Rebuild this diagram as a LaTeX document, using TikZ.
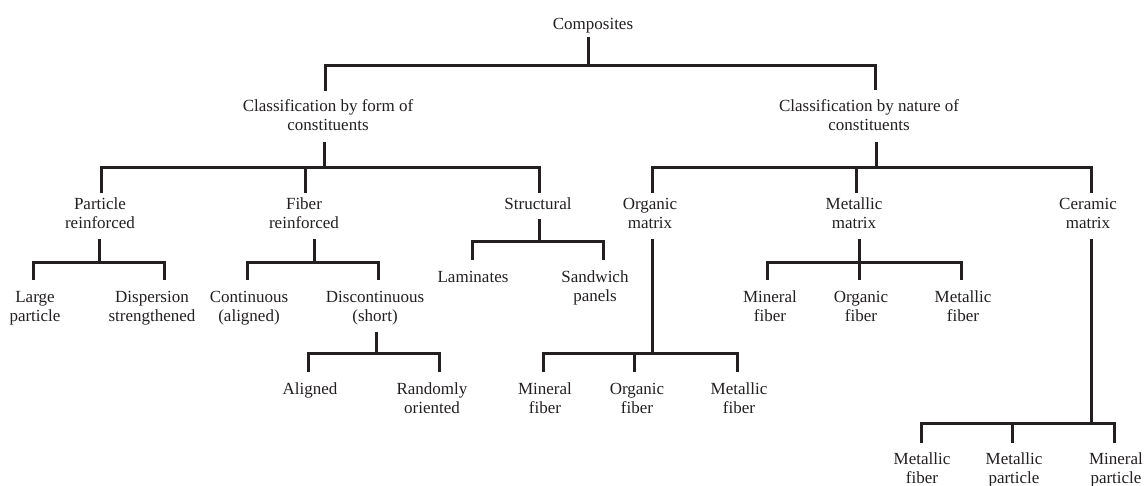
\documentclass[tikz,border=0pt]{standalone}
\usepackage{fontspec}
\setmainfont{Liberation Serif}
\definecolor{ink}{HTML}{231F20}
\begin{document}
\begin{tikzpicture}[x=1pt,y=-1pt,
  lbl/.style={font=\fontsize{17}{19}\selectfont, align=center, inner sep=0pt, anchor=base, text=ink},
  conn/.style={draw=ink, line width=3pt}]
\useasboundingbox (0,0) rectangle (1145,485);
% nodes (anchor base = baseline of the last line)
\node[lbl] (comp) at (593,29) {Composites};
\node[lbl] (cfA) at (328,130) {Classification by form of\\constituents};
\node[lbl] (cfB) at (869,130) {Classification by nature of\\constituents};
\node[lbl] (pr) at (100,228) {Particle\\reinforced};
\node[lbl] (fr) at (304,228) {Fiber\\reinforced};
\node[lbl] (st) at (538,209) {Structural};
\node[lbl] (om) at (650,228) {Organic\\matrix};
\node[lbl] (mm) at (854,228) {Metallic\\matrix};
\node[lbl] (cm) at (1088,228) {Ceramic\\matrix};
\node[lbl] (lp) at (35,321) {Large\\particle};
\node[lbl] (ds) at (152,321) {Dispersion\\strengthened};
\node[lbl] (ca) at (249,321) {Continuous\\(aligned)};
\node[lbl] (dc) at (375,321) {Discontinuous\\(short)};
\node[lbl] (lam) at (473,282) {Laminates};
\node[lbl] (sw) at (595,301) {Sandwich\\panels};
\node[lbl] (al) at (310,394) {Aligned};
\node[lbl] (ro) at (432,413) {Randomly\\oriented};
\node[lbl] (of1) at (545,413) {Mineral\\fiber};
\node[lbl] (of2) at (637,413) {Organic\\fiber};
\node[lbl] (of3) at (739,413) {Metallic\\fiber};
\node[lbl] (mf1) at (770,321) {Mineral\\fiber};
\node[lbl] (mf2) at (861,321) {Organic\\fiber};
\node[lbl] (mf3) at (963,321) {Metallic\\fiber};
\node[lbl] (cf1) at (922,483) {Metallic\\fiber};
\node[lbl] (cf2) at (1014,483) {Metallic\\particle};
\node[lbl] (cf3) at (1116,483) {Mineral\\particle};
% junctions
\coordinate (j1) at (588,65);
\coordinate (j2a) at (324,167);
\coordinate (j2b) at (876,167);
\coordinate (j3a) at (99,262);
\coordinate (j3b) at (314,262);
\coordinate (j3c) at (539,241);
\coordinate (j3d) at (859,262);
\coordinate (j4a) at (376,353);
\coordinate (j4b) at (652,353);
\coordinate (j5) at (1091,423);
% level 1
\draw[conn] ([xshift=-5pt,yshift=-8pt]comp.base) -- (j1);
\draw[conn] ([xshift=-3pt,yshift=39pt]cfA.base) |- (j1) -| ([xshift=6pt,yshift=40pt]cfB.base);
% form of constituents
\draw[conn] ([xshift=-4pt,yshift=-12pt]cfA.base) -- (j2a);
\draw[conn] ([xshift=1pt,yshift=35pt]pr.base) |- (j2a) -| ([xshift=1pt,yshift=16pt]st.base);
\draw[conn] ([xshift=1pt,yshift=35pt]fr.base) |- (j2a);
% nature of constituents
\draw[conn] ([xshift=7pt,yshift=-12pt]cfB.base) -- (j2b);
\draw[conn] ([xshift=2pt,yshift=35pt]om.base) |- (j2b) -| ([xshift=3pt,yshift=35pt]cm.base);
\draw[conn] ([xshift=2pt,yshift=35pt]mm.base) |- (j2b);
% particle reinforced
\draw[conn] ([xshift=-1pt,yshift=-11pt]pr.base) -- (j3a);
\draw[conn] ([xshift=-2pt,yshift=41pt]lp.base) |- (j3a) -| ([xshift=12pt,yshift=41pt]ds.base);
% fiber reinforced
\draw[conn] ([xshift=10pt,yshift=-11pt]fr.base) -- (j3b);
\draw[conn] ([xshift=-2pt,yshift=41pt]ca.base) |- (j3b) -| ([xshift=3pt,yshift=41pt]dc.base);
% structural
\draw[conn] ([xshift=1pt,yshift=-10pt]st.base) -- (j3c);
\draw[conn] ([xshift=-1pt,yshift=22pt]lam.base) |- (j3c) -| ([xshift=8pt,yshift=41pt]sw.base);
% discontinuous
\draw[conn] ([xshift=1pt,yshift=-11pt]dc.base) -- (j4a);
\draw[conn] ([xshift=-2pt,yshift=22pt]al.base) |- (j4a) -| ([xshift=7pt,yshift=41pt]ro.base);
% organic matrix
\draw[conn] ([xshift=2pt,yshift=-11pt]om.base) -- (j4b);
\draw[conn] ([xshift=-2pt,yshift=41pt]of1.base) |- (j4b) -| ([xshift=-2pt,yshift=41pt]of3.base);
\draw[conn] ([xshift=-3pt,yshift=41pt]of2.base) |- (j4b);
% metallic matrix
\draw[conn] ([xshift=5pt,yshift=-11pt]mm.base) -- (j3d);
\draw[conn] ([xshift=-3pt,yshift=41pt]mf1.base) |- (j3d) -| ([xshift=-2pt,yshift=41pt]mf3.base);
\draw[conn] ([xshift=-2pt,yshift=41pt]mf2.base) |- (j3d);
% ceramic matrix
\draw[conn] ([xshift=3pt,yshift=-11pt]cm.base) -- (j5);
\draw[conn] ([xshift=-1pt,yshift=40pt]cf1.base) |- (j5) -| ([xshift=-2pt,yshift=40pt]cf3.base);
\draw[conn] ([xshift=-2pt,yshift=40pt]cf2.base) |- (j5);
\end{tikzpicture}
\end{document}
